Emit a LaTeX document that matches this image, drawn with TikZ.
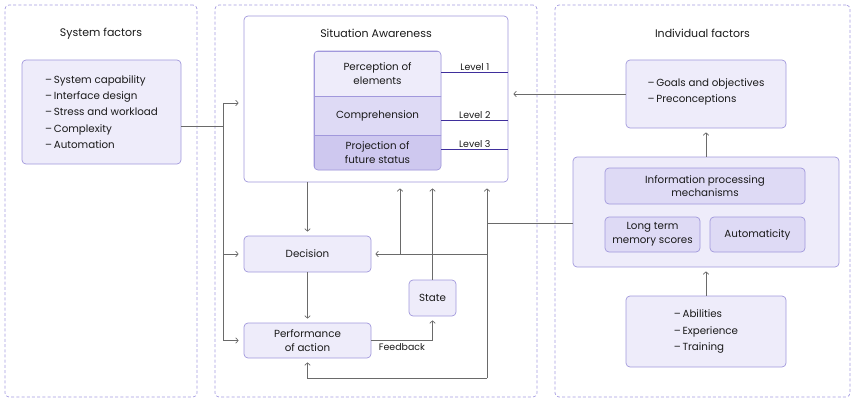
\documentclass[tikz,border=0pt]{standalone}
\usepackage{fontspec}
\setmainfont{Poppins}
\usetikzlibrary{arrows.meta,calc}

\definecolor{panelline}{HTML}{A59BE0}
\definecolor{boxline}{HTML}{A198DC}
\definecolor{boxfill}{HTML}{EEECFA}
\definecolor{midfill}{HTML}{DEDAF5}
\definecolor{deepfill}{HTML}{CEC8EF}
\definecolor{levline}{HTML}{3F2F9C}
\definecolor{connline}{HTML}{6A6A6A}
\definecolor{ink}{HTML}{1A1A1A}

\tikzset{
  panel/.style={draw=panelline, dash pattern=on 3pt off 2.2pt, rounded corners=4pt, line width=0.7pt},
  box/.style={draw=boxline, fill=boxfill, rounded corners=4pt, line width=0.7pt,
              align=center, inner sep=0pt, text=ink, font=\fontsize{10.3}{13.6}\selectfont},
  listbox/.style={box, align=left, font=\fontsize{10.3}{16.4}\selectfont},
  conn/.style={draw=connline, line width=0.7pt},
  arr/.style={conn, -{Straight Barb[length=2.5pt,width=5.5pt]}},
  levelline/.style={draw=levline, line width=0.8pt},
  title/.style={font=\fontsize{11}{13}\selectfont, text=ink},
  small/.style={font=\fontsize{9.4}{11}\selectfont, text=ink},
}

\begin{document}
\begin{tikzpicture}[x=1pt, y=-1pt]
\useasboundingbox (0,0) rectangle (853,401);

% three dashed panels
\node[panel, minimum width=192pt, minimum height=392pt,
      label={[title, anchor=center, yshift=-29pt]north:System factors}] (pSys) at (101,201) {};
\node[panel, minimum width=322pt, minimum height=392pt] (pMid) at (376,201) {};
\node[panel, minimum width=295pt, minimum height=392pt,
      label={[title, anchor=center, yshift=-29pt]north:Individual factors}] (pInd) at (702.5,201) {};

% system factors list
\node[listbox, minimum width=159pt, minimum height=104pt] (sys) at (101.5,112)
  {–\,System capability\\–\,Interface design\\–\,Stress and workload\\–\,Complexity\\–\,Automation};

% situation awareness
\node[box, fill=white, minimum width=264pt, minimum height=166pt,
      label={[title, anchor=center, yshift=-18pt]north:Situation Awareness}] (sa) at (376,99) {};

\begin{scope}
  \clip[rounded corners=4pt] (314,51) rectangle (441,170);
  \node[box, rounded corners=0pt, minimum width=127pt, minimum height=45pt] (perc) at (377.5,73.5)
    {Perception of\\elements};
  \node[box, rounded corners=0pt, fill=midfill, minimum width=127pt, minimum height=39pt] (comp) at (377.5,115.5)
    {Comprehension};
  \node[box, rounded corners=0pt, fill=deepfill, minimum width=127pt, minimum height=35pt] (proj) at (377.5,152.5)
    {Projection of\\future status};
\end{scope}
\draw[draw=boxline, line width=0.7pt, rounded corners=4pt] (314,51) rectangle (441,170);

\draw[levelline] ([yshift=1.5pt]perc.east) -- ([yshift=1.5pt]perc.east -| sa.east)
  node[small, midway, above, inner sep=1.5pt] {Level 1};
\draw[levelline] ([yshift=-4.5pt]comp.east) -- ([yshift=-4.5pt]comp.east -| sa.east)
  node[small, midway, above, inner sep=1.5pt] {Level 2};
\draw[levelline] ([yshift=3.5pt]proj.east) -- ([yshift=3.5pt]proj.east -| sa.east)
  node[small, midway, above, inner sep=1.5pt] {Level 3};

% decision loop
\node[box, minimum width=127pt, minimum height=36pt] (dec) at (307.5,254) {Decision};
\node[box, minimum width=127pt, minimum height=35pt] (perf) at (307.5,340.5)
  {Performance\\of action};
\node[box, minimum width=47pt, minimum height=36pt] (state) at (432.5,298) {State};

% individual factors
\node[listbox, minimum width=160pt, minimum height=68pt] (goals) at (706,94)
  {–\,Goals and objectives\\–\,Preconceptions\\[-9pt]};
\node[box, minimum width=266pt, minimum height=110pt] (info) at (706,212) {};
\node[box, fill=midfill, minimum width=200pt, minimum height=36pt] (ipm) at (705,186)
  {Information processing\\mechanisms};
\node[box, fill=midfill, minimum width=95pt, minimum height=35pt] (ltm) at (652.5,234.5)
  {Long term\\memory scores};
\node[box, fill=midfill, minimum width=95pt, minimum height=35pt] (auto) at (757.5,234.5)
  {Automaticity};
\node[listbox, minimum width=160pt, minimum height=71pt] (abil) at (706,331.5)
  {–\,Abilities\\–\,Experience\\–\,Training};

% system factors bus
\coordinate (busJ) at (223,126);
\coordinate (busT) at (223,103);
\coordinate (busB) at (223,340.5);
\draw[conn] (busJ -| sys.east) -- (busJ);
\draw[conn] (busT) -- (busB);
\draw[arr, shorten >=5pt] (busT) -- (busT -| sa.west);
\draw[arr, shorten >=5pt] (busT |- dec.west) -- (dec.west);
\draw[arr, shorten >=5pt] (busB) -- (perf.west);

% main flow
\draw[arr, shorten >=4pt] (sa.south -| dec.north) -- (dec.north);
\draw[arr, shorten >=4pt] (dec.south) -- (perf.north);
\draw[arr, shorten >=4pt] (perf.east) -- node[small, below, inner sep=3pt] {Feedback}
  (perf.east -| state.south) -- (state.south);
\draw[arr, shorten >=6pt] (state.north) -- (state.north |- sa.south);

% individual factors feed
\coordinate (hubR) at (487,223);
\coordinate (hubB) at (487,378);
\coordinate (brD) at (400,254);
\draw[conn] (hubR -| info.west) -- (hubR);
\draw[arr, shorten >=6pt] (hubB) -- (hubB |- sa.south);
\draw[arr, shorten >=4pt] (hubB) -- (hubB -| perf.south) -- (perf.south);
\draw[arr, shorten >=4pt] (hubB |- dec.east) -- (dec.east);
\draw[arr, shorten >=6pt] (brD) -- (brD |- sa.south);
\draw[arr, shorten >=5pt] (goals.west) -- (goals.west -| sa.east);
\draw[arr, shorten >=4pt] (info.north) -- (goals.south);
\draw[arr, shorten >=4pt] (abil.north) -- (info.south);
\end{tikzpicture}
\end{document}
